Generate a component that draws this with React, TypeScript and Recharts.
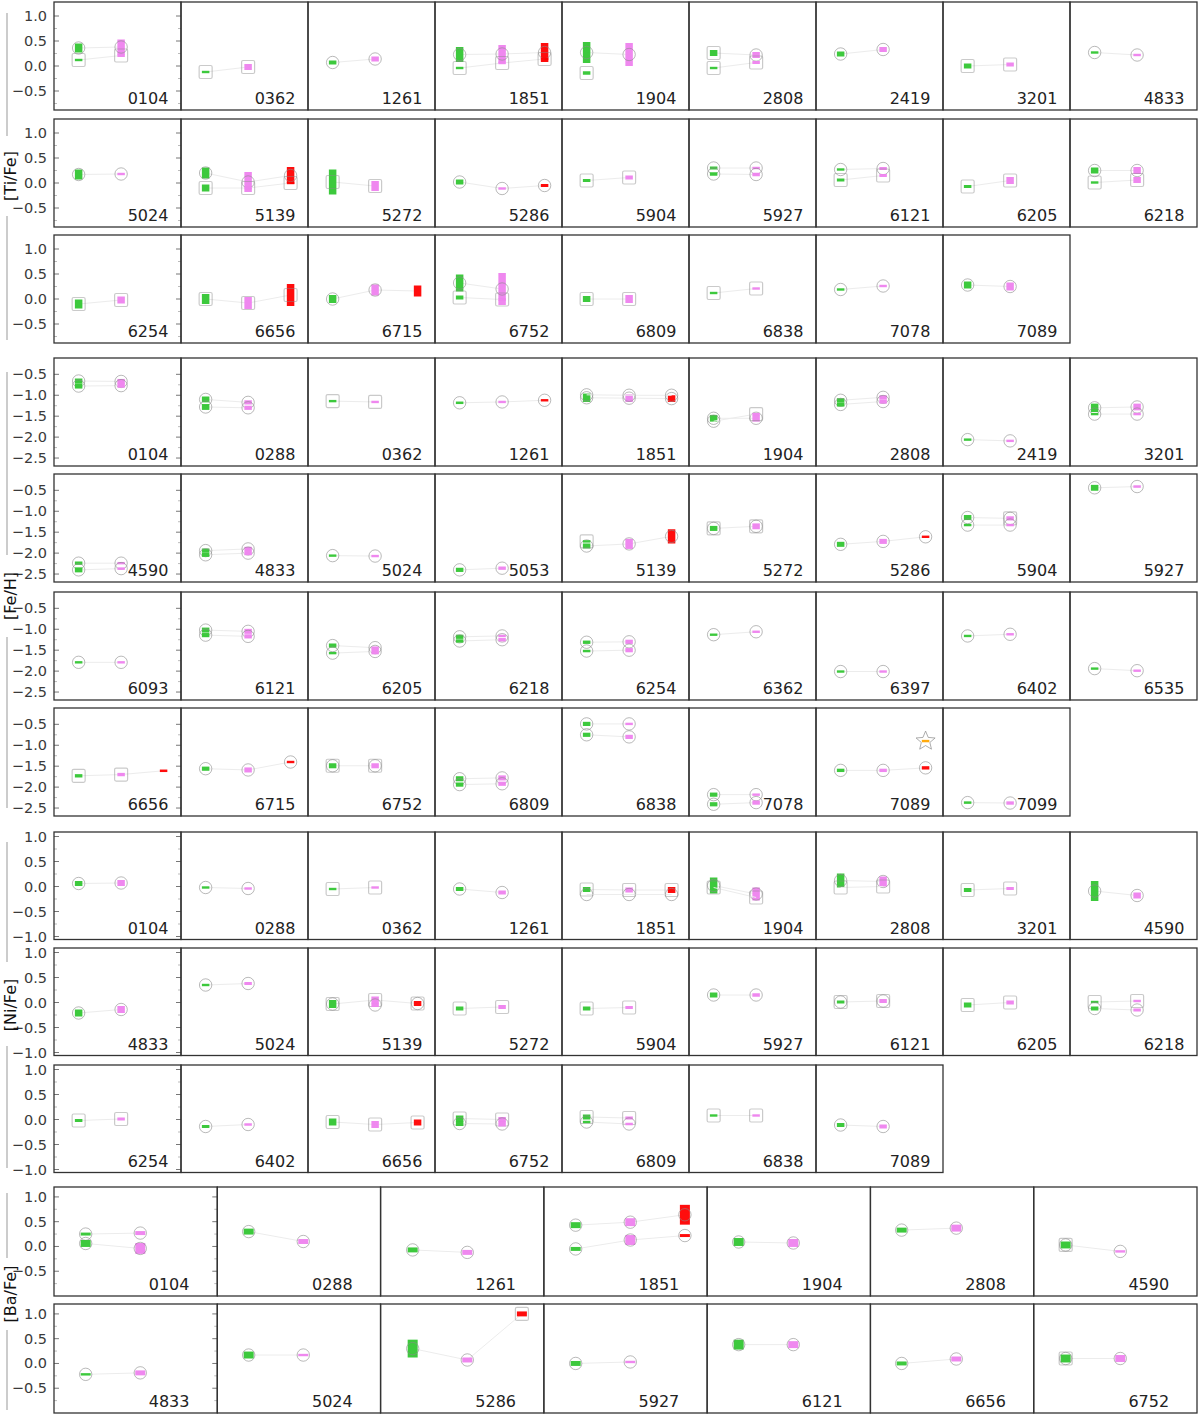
import React from 'react'
import { ScatterChart, Scatter, XAxis, YAxis } from 'recharts'

// point = [slot (1 green, 2 violet, 3 red), value, bar height, outline: o circle, s square, b both, * star]
type Pt = [number, number, number, string]

const tiIds = ['0104', '0362', '1261', '1851', '1904', '2808', '2419', '3201', '4833',
  '5024', '5139', '5272', '5286', '5904', '5927', '6121', '6205', '6218',
  '6254', '6656', '6715', '6752', '6809', '6838', '7078', '7089']
const tiPts: Pt[][] = [
  [[1, 0.36, 0.18, 'o'], [1, 0.12, 0.03, 's'], [2, 0.38, 0.3, 'o'], [2, 0.21, 0.06, 's']],
  [[1, -0.12, 0.04, 's'], [2, -0.02, 0.12, 's']],
  [[1, 0.07, 0.08, 'o'], [2, 0.14, 0.1, 'o']],
  [[1, 0.23, 0.3, 'o'], [1, -0.04, 0.03, 's'], [2, 0.24, 0.36, 'o'], [2, 0.06, 0.02, 's'], [3, 0.27, 0.38, 'o'], [3, 0.14, 0.04, 's']],
  [[1, 0.27, 0.42, 'o'], [1, -0.14, 0.07, 's'], [2, 0.23, 0.46, 'o']],
  [[1, 0.26, 0.12, 's'], [1, -0.04, 0.03, 's'], [2, 0.22, 0.12, 'o'], [2, 0.07, 0.06, 's']],
  [[1, 0.24, 0.1, 'o'], [2, 0.33, 0.1, 'o']],
  [[1, 0.0, 0.1, 's'], [2, 0.03, 0.08, 's']],
  [[1, 0.27, 0.03, 'o'], [2, 0.22, 0.03, 'o']],
  [[1, 0.17, 0.2, 'o'], [2, 0.18, 0.03, 'o']],
  [[1, 0.2, 0.22, 'o'], [1, -0.1, 0.14, 's'], [2, 0.02, 0.4, 'o'], [2, -0.1, 0.04, 's'], [3, 0.15, 0.34, 'o'], [3, 0.0, 0.04, 's']],
  [[1, 0.02, 0.5, 's'], [2, -0.06, 0.2, 's']],
  [[1, 0.02, 0.1, 'o'], [2, -0.11, 0.03, 'o'], [3, -0.05, 0.06, 'o']],
  [[1, 0.05, 0.06, 's'], [2, 0.11, 0.08, 's']],
  [[1, 0.3, 0.06, 'o'], [1, 0.18, 0.07, 'o'], [2, 0.3, 0.03, 'o'], [2, 0.17, 0.07, 'o']],
  [[1, 0.27, 0.03, 'o'], [1, 0.06, 0.06, 's'], [2, 0.29, 0.06, 'o'], [2, 0.15, 0.06, 's']],
  [[1, -0.07, 0.06, 's'], [2, 0.05, 0.14, 's']],
  [[1, 0.25, 0.12, 'o'], [1, 0.01, 0.03, 's'], [2, 0.25, 0.14, 'o'], [2, 0.06, 0.12, 's']],
  [[1, -0.1, 0.18, 's'], [2, -0.02, 0.14, 's']],
  [[1, 0.0, 0.2, 's'], [2, -0.08, 0.24, 's'], [3, 0.08, 0.44, 's']],
  [[1, 0.0, 0.16, 'o'], [2, 0.18, 0.22, 'o'], [3, 0.16, 0.22, '']],
  [[1, 0.32, 0.34, 'o'], [1, 0.03, 0.08, 's'], [2, 0.2, 0.64, 'o'], [2, -0.01, 0.05, 's']],
  [[1, 0.0, 0.12, 's'], [2, 0.0, 0.16, 's']],
  [[1, 0.12, 0.03, 's'], [2, 0.21, 0.03, 's']],
  [[1, 0.19, 0.03, 'o'], [2, 0.26, 0.03, 'o']],
  [[1, 0.28, 0.14, 'o'], [2, 0.25, 0.16, 'o']],
]

const feIds = ['0104', '0288', '0362', '1261', '1851', '1904', '2808', '2419', '3201',
  '4590', '4833', '5024', '5053', '5139', '5272', '5286', '5904', '5927',
  '6093', '6121', '6205', '6218', '6254', '6362', '6397', '6402', '6535',
  '6656', '6715', '6752', '6809', '6838', '7078', '7089', '7099']
const fePts: Pt[][] = [
  [[1, -0.66, 0.12, 'o'], [1, -0.78, 0.12, 'o'], [2, -0.67, 0.12, 'o'], [2, -0.77, 0.1, 'o']],
  [[1, -1.1, 0.14, 'o'], [1, -1.28, 0.14, 'o'], [2, -1.17, 0.1, 'o'], [2, -1.3, 0.1, 'o']],
  [[1, -1.14, 0.03, 's'], [2, -1.16, 0.03, 's']],
  [[1, -1.18, 0.06, 'o'], [2, -1.16, 0.03, 'o'], [3, -1.12, 0.03, 'o']],
  [[1, -1.06, 0.2, 'o'], [1, -0.99, 0, 'o'], [2, -1.07, 0.18, 'o'], [2, -1.0, 0, 'o'], [3, -1.08, 0.16, 'o'], [3, -1.0, 0, 'o']],
  [[1, -1.55, 0.16, 'o'], [1, -1.62, 0, 'o'], [2, -1.55, 0.16, 'o'], [2, -1.45, 0.03, 's']],
  [[1, -1.12, 0.1, 'o'], [1, -1.22, 0.1, 'o'], [2, -1.05, 0.1, 'o'], [2, -1.15, 0.1, 'o']],
  [[1, -2.06, 0.03, 'o'], [2, -2.09, 0.03, 'o']],
  [[1, -1.3, 0.2, 'o'], [1, -1.45, 0.03, 'o'], [2, -1.28, 0.16, 'o'], [2, -1.45, 0.03, 'o']],
  [[1, -2.24, 0.08, 'o'], [1, -2.4, 0.12, 'o'], [2, -2.24, 0.03, 'o'], [2, -2.37, 0.06, 'o']],
  [[1, -1.94, 0.1, 'o'], [1, -2.04, 0.1, 'o'], [2, -1.9, 0.1, 'o'], [2, -2.0, 0.1, 'o']],
  [[1, -2.06, 0.03, 'o'], [2, -2.07, 0.03, 'o']],
  [[1, -2.4, 0.1, 'o'], [2, -2.36, 0.08, 'o']],
  [[1, -1.83, 0.12, 'o'], [1, -1.72, 0.02, 's'], [2, -1.78, 0.24, 'o'], [3, -1.6, 0.34, 'o']],
  [[1, -1.41, 0.12, 'b'], [2, -1.36, 0.14, 'b']],
  [[1, -1.79, 0.12, 'o'], [2, -1.72, 0.12, 'o'], [3, -1.61, 0.03, 'o']],
  [[1, -1.15, 0.12, 'o'], [1, -1.33, 0.03, 'o'], [2, -1.17, 0.1, 'b'], [2, -1.33, 0.03, 'o']],
  [[1, -0.44, 0.14, 'o'], [2, -0.41, 0.06, 'o']],
  [[1, -1.79, 0.03, 'o'], [2, -1.79, 0.03, 'o']],
  [[1, -1.02, 0.12, 'o'], [1, -1.14, 0.1, 'o'], [2, -1.05, 0.12, 'o'], [2, -1.17, 0.1, 'o']],
  [[1, -1.39, 0.1, 'o'], [1, -1.57, 0.04, 'o'], [2, -1.44, 0.06, 'o'], [2, -1.53, 0.14, 'o']],
  [[1, -1.18, 0.1, 'o'], [1, -1.28, 0.08, 'o'], [2, -1.16, 0.06, 'o'], [2, -1.25, 0.08, 'o']],
  [[1, -1.31, 0.08, 'o'], [1, -1.52, 0.06, 'o'], [2, -1.3, 0.1, 'o'], [2, -1.5, 0.1, 'o']],
  [[1, -1.13, 0.03, 'o'], [2, -1.06, 0.05, 'o']],
  [[1, -2.01, 0.03, 'o'], [2, -2.01, 0.03, 'o']],
  [[1, -1.16, 0.03, 'o'], [2, -1.12, 0.04, 'o']],
  [[1, -1.94, 0.05, 'o'], [2, -1.99, 0.02, 'o']],
  [[1, -1.73, 0.08, 's'], [2, -1.7, 0.08, 's'], [3, -1.61, 0.06, '']],
  [[1, -1.56, 0.1, 'o'], [2, -1.59, 0.12, 'o'], [3, -1.4, 0.03, 'o']],
  [[1, -1.49, 0.12, 'b'], [2, -1.49, 0.12, 'b']],
  [[1, -1.8, 0.12, 'o'], [1, -1.94, 0.1, 'o'], [2, -1.78, 0.12, 'o'], [2, -1.92, 0.1, 'o']],
  [[1, -0.49, 0.1, 'o'], [1, -0.75, 0.1, 'o'], [2, -0.49, 0.03, 'o'], [2, -0.8, 0.1, 'o']],
  [[1, -2.18, 0.1, 'o'], [1, -2.41, 0.1, 'o'], [2, -2.18, 0.03, 'o'], [2, -2.37, 0.1, 'o']],
  [[1, -1.6, 0.08, 'o'], [2, -1.6, 0.08, 'o'], [3, -1.54, 0.08, 'o'], [3, -0.9, 0.03, '*']],
  [[1, -2.37, 0.06, 'o'], [2, -2.38, 0.08, 'o']],
]

const niIds = ['0104', '0288', '0362', '1261', '1851', '1904', '2808', '3201', '4590',
  '4833', '5024', '5139', '5272', '5904', '5927', '6121', '6205', '6218',
  '6254', '6402', '6656', '6752', '6809', '6838', '7089']
const niPts: Pt[][] = [
  [[1, 0.06, 0.1, 'o'], [2, 0.07, 0.12, 'o']],
  [[1, -0.02, 0.03, 'o'], [2, -0.04, 0.02, 'o']],
  [[1, -0.05, 0.03, 's'], [2, -0.02, 0.03, 's']],
  [[1, -0.05, 0.08, 'o'], [2, -0.12, 0.08, 'o']],
  [[1, -0.06, 0.1, 's'], [1, -0.16, 0, 'o'], [2, -0.07, 0.1, 's'], [2, -0.16, 0, 'o'], [3, -0.07, 0.12, 's'], [3, -0.16, 0, 'o']],
  [[1, 0.02, 0.32, 'o'], [1, -0.02, 0, 's'], [2, -0.15, 0.26, 'o'], [2, -0.22, 0, 's']],
  [[1, 0.12, 0.28, 'o'], [1, -0.02, 0, 's'], [2, 0.1, 0.2, 'o'], [2, 0.0, 0, 's']],
  [[1, -0.07, 0.08, 's'], [2, -0.04, 0.06, 's']],
  [[1, -0.09, 0.4, 'o'], [2, -0.18, 0.12, 'o']],
  [[1, -0.21, 0.14, 'o'], [2, -0.14, 0.14, 'o']],
  [[1, 0.35, 0.03, 'o'], [2, 0.38, 0.06, 'o']],
  [[1, -0.03, 0.16, 'b'], [2, 0.05, 0.14, 's'], [2, -0.05, 0.08, 'o'], [3, -0.02, 0.1, 'b']],
  [[1, -0.12, 0.08, 's'], [2, -0.09, 0.08, 's']],
  [[1, -0.12, 0.08, 's'], [2, -0.1, 0.06, 's']],
  [[1, 0.15, 0.1, 'o'], [2, 0.15, 0.07, 'o']],
  [[1, 0.01, 0.06, 'b'], [2, 0.03, 0.08, 'b']],
  [[1, -0.05, 0.1, 's'], [2, 0.0, 0.08, 's']],
  [[1, 0.01, 0.03, 's'], [1, -0.12, 0.08, 'o'], [2, 0.03, 0.03, 's'], [2, -0.15, 0.06, 'o']],
  [[1, -0.02, 0.06, 's'], [2, 0.01, 0.06, 's']],
  [[1, -0.14, 0.06, 'o'], [2, -0.1, 0.05, 'o']],
  [[1, -0.05, 0.14, 's'], [2, -0.1, 0.14, 's'], [3, -0.06, 0.12, 's']],
  [[1, 0.02, 0.12, 's'], [1, -0.08, 0.1, 'o'], [2, 0.0, 0.1, 's'], [2, -0.09, 0.1, 'o']],
  [[1, 0.05, 0.1, 's'], [1, -0.05, 0.02, 'o'], [2, 0.03, 0.06, 's'], [2, -0.09, 0.05, 'o']],
  [[1, 0.08, 0.03, 's'], [2, 0.08, 0.02, 's']],
  [[1, -0.11, 0.08, 'o'], [2, -0.14, 0.08, 'o']],
]

const baIds = ['0104', '0288', '1261', '1851', '1904', '2808', '4590',
  '4833', '5024', '5286', '5927', '6121', '6656', '6752']
const baPts: Pt[][] = [
  [[1, 0.25, 0.06, 'o'], [1, 0.06, 0.14, 'o'], [2, 0.27, 0.08, 'o'], [2, -0.04, 0.22, 'o']],
  [[1, 0.3, 0.12, 'o'], [2, 0.1, 0.1, 'o']],
  [[1, -0.07, 0.1, 'o'], [2, -0.12, 0.1, 'o']],
  [[1, 0.43, 0.12, 'o'], [1, -0.05, 0.08, 'o'], [2, 0.49, 0.16, 'o'], [2, 0.13, 0.2, 'o'], [3, 0.64, 0.4, 'o'], [3, 0.22, 0.06, 'o']],
  [[1, 0.09, 0.16, 'o'], [2, 0.07, 0.16, 'o']],
  [[1, 0.33, 0.1, 'o'], [2, 0.37, 0.14, 'o']],
  [[1, 0.03, 0.14, 'b'], [2, -0.1, 0.03, 'o']],
  [[1, -0.22, 0.03, 'o'], [2, -0.19, 0.1, 'o']],
  [[1, 0.17, 0.14, 'o'], [2, 0.17, 0.03, 'o']],
  [[1, 0.3, 0.36, 'o'], [2, 0.07, 0.1, 'o'], [3, 1.0, 0.1, 's']],
  [[1, 0.0, 0.1, 'o'], [2, 0.03, 0.03, 'o']],
  [[1, 0.38, 0.2, 'o'], [2, 0.38, 0.14, 'o']],
  [[1, 0.0, 0.08, 'o'], [2, 0.09, 0.1, 'o']],
  [[1, 0.1, 0.16, 'b'], [2, 0.1, 0.14, 'o']],
]

const FONT = 'DejaVu Sans, sans-serif'
const X0 = 54
const X1 = 1197
const SLOT_COLORS: Record<number, string> = { 1: '#33c633', 2: '#ee82ee', 3: '#ff0000' }

interface Group {
  label: string
  ids: string[]
  pts: Pt[][]
  cols: number
  rowTops: number[]
  rowH: number
  domain: [number, number]
  major: number[]
  minor: number[]
  labelY: number
  lines: [number, number][]
}

const groups: Group[] = [
  {
    label: '[Ti/Fe]', ids: tiIds, pts: tiPts, cols: 9, rowTops: [2, 119, 235], rowH: 108,
    domain: [-0.88, 1.28], major: [1, 0.5, 0, -0.5], minor: [0.75, 0.25, -0.25, -0.75],
    labelY: 176, lines: [[13, 136], [216, 340]],
  },
  {
    label: '[Fe/H]', ids: feIds, pts: fePts, cols: 9, rowTops: [358, 474, 592, 708], rowH: 108,
    domain: [-2.69, -0.11], major: [-0.5, -1, -1.5, -2, -2.5], minor: [-0.75, -1.25, -1.75, -2.25],
    labelY: 596, lines: [[372, 555], [637, 808]],
  },
  {
    label: '[Ni/Fe]', ids: niIds, pts: niPts, cols: 9, rowTops: [832, 948, 1065], rowH: 107.5,
    domain: [-1.06, 1.09], major: [1, 0.5, 0, -0.5, -1], minor: [0.75, 0.25, -0.25, -0.75],
    labelY: 1005, lines: [[842, 962], [1046, 1168]],
  },
  {
    label: '[Ba/Fe]', ids: baIds, pts: baPts, cols: 7, rowTops: [1187, 1304], rowH: 109,
    domain: [-1.0, 1.2], major: [1, 0.5, 0, -0.5], minor: [0.75, 0.25, -0.25, -0.75],
    labelY: 1294, lines: [[1193, 1258], [1330, 1410]],
  },
]

const fmt = (v: number) => (v < 0 ? '\u2212' : '') + Math.abs(v).toFixed(1)

function toTracks(pts: Pt[]) {
  const seen: Record<number, number> = {}
  const out: { x: number; y: number; h: number; m: string }[][] = []
  for (const [x, y, h, m] of pts) {
    const k = seen[x] ?? 0
    seen[x] = k + 1
    if (!out[k]) out[k] = []
    out[k].push({ x, y, h, m })
  }
  return out
}

function starPath(cx: number, cy: number, ro: number, ri: number) {
  let d = ''
  for (let i = 0; i < 10; i++) {
    const r = i % 2 === 0 ? ro : ri
    const a = -Math.PI / 2 + (i * Math.PI) / 5
    d += (i === 0 ? 'M' : 'L') + (cx + r * Math.cos(a)).toFixed(2) + ',' + (cy + r * Math.sin(a)).toFixed(2)
  }
  return d + 'Z'
}

function makeShape(ppu: number, bw: number) {
  return (p: any) => {
    const { cx, cy, payload } = p
    if (cx == null || cy == null) return <g />
    const color = payload.m === '*' ? '#ffa500' : SLOT_COLORS[payload.x]
    const hp = payload.h > 0 ? Math.max(2.4, payload.h * ppu) : 0
    const out = '#8a8a8a'
    return (
      <g>
        {payload.m === '*' && (
          <path d={starPath(cx, cy, 10, 4.5)} fill="#fff" stroke={out} strokeOpacity={0.7} strokeWidth={1} />
        )}
        {hp > 0 && <rect x={cx - bw / 2} y={cy - hp / 2} width={bw} height={hp} fill={color} fillOpacity={0.95} />}
        {(payload.m === 'o' || payload.m === 'b') && (
          <circle cx={cx} cy={cy} r={6.2} fill="none" stroke={out} strokeOpacity={0.6} strokeWidth={1} />
        )}
        {(payload.m === 's' || payload.m === 'b') && (
          <rect x={cx - 6.5} y={cy - 6.5} width={13} height={13} rx={1.5} fill="none" stroke={out} strokeOpacity={0.45} strokeWidth={1.2} />
        )}
      </g>
    )
  }
}

function makeTick(pw: number, major: number[], showLabel: boolean) {
  return (p: any) => {
    const v = p.payload.value
    const isMajor = major.some((m) => Math.abs(m - v) < 1e-6)
    const len = isMajor ? 5 : 3
    const col = isMajor ? '#777' : '#bbb'
    return (
      <g>
        <line x1={p.x} x2={p.x + len} y1={p.y} y2={p.y} stroke={col} strokeWidth={1} />
        <line x1={p.x + pw - len} x2={p.x + pw} y1={p.y} y2={p.y} stroke={col} strokeWidth={1} />
        {showLabel && isMajor && (
          <text x={p.x - 7} y={p.y} textAnchor="end" dominantBaseline="central" fontSize={14.5} fontFamily={FONT} fill="#3a3a3a">
            {fmt(v)}
          </text>
        )}
      </g>
    )
  }
}

function Panel({ g, i }: { g: Group; i: number }) {
  const row = Math.floor(i / g.cols)
  const col = i % g.cols
  const pw = (X1 - X0) / g.cols
  const ph = g.rowH
  const first = col === 0
  const left = first ? 0 : X0 + col * pw
  const width = first ? X0 + pw : pw
  const ppu = ph / (g.domain[1] - g.domain[0])
  const ticks = [...g.major, ...g.minor].sort((a, b) => b - a)
  const tracks = toTracks(g.pts[i])
  const shape = makeShape(ppu, g.cols === 7 ? 10 : 7.5)
  return (
    <div style={{ position: 'absolute', left, top: g.rowTops[row], width, height: ph }}>
      <ScatterChart width={width} height={ph} margin={{ top: 0, right: 0, bottom: 0, left: 0 }}>
        <XAxis type="number" dataKey="x" domain={[0.42, 3.41]} hide allowDataOverflow />
        <YAxis
          type="number"
          dataKey="y"
          domain={g.domain}
          ticks={ticks}
          interval={0}
          width={first ? X0 : 0}
          tickSize={0}
          tickMargin={0}
          axisLine={false}
          tickLine={false}
          allowDataOverflow
          tick={makeTick(pw, g.major, first)}
        />
        {tracks.map((t, k) => (
          <Scatter
            key={k}
            data={t}
            line={{ stroke: '#ececec', strokeWidth: 1 }}
            lineType="joint"
            shape={shape}
            isAnimationActive={false}
          />
        ))}
      </ScatterChart>
    </div>
  )
}

function Overlay() {
  const items: React.ReactNode[] = []
  groups.forEach((g, gi) => {
    const pw = (X1 - X0) / g.cols
    g.ids.forEach((id, i) => {
      const row = Math.floor(i / g.cols)
      const col = i % g.cols
      const left = X0 + col * pw
      const top = g.rowTops[row]
      items.push(
        <rect key={`b${gi}-${i}`} x={left} y={top} width={pw} height={g.rowH} fill="none" stroke="#333" strokeWidth={1.3} />,
        <text key={`t${gi}-${i}`} x={left + 0.58 * pw} y={top + g.rowH - 6} fontSize={16} fontFamily={FONT} fill="#222">
          {id}
        </text>,
      )
    })
    g.lines.forEach(([a, b], k) => {
      items.push(<line key={`l${gi}-${k}`} x1={7} x2={7} y1={a} y2={b} stroke="#aaa" strokeWidth={1.2} />)
    })
    items.push(
      <text
        key={`g${gi}`}
        transform={`translate(10, ${g.labelY}) rotate(-90)`}
        textAnchor="middle"
        dominantBaseline="central"
        fontSize={16}
        fontFamily={FONT}
        fill="#111"
      >
        {g.label}
      </text>,
    )
  })
  return (
    <svg width={1200} height={1414} style={{ position: 'absolute', left: 0, top: 0, pointerEvents: 'none' }}>
      {items}
    </svg>
  )
}

export default function App() {
  return (
    <div style={{ position: 'absolute', left: 0, top: 0, width: 1200, height: 1414, background: '#fff', fontFamily: FONT }}>
      <style>{'.recharts-surface { overflow: visible; } .recharts-wrapper { overflow: visible; }'}</style>
      {groups.map((g, gi) => g.ids.map((id, i) => <Panel key={`${gi}-${id}-${i}`} g={g} i={i} />))}
      <Overlay />
    </div>
  )
}
